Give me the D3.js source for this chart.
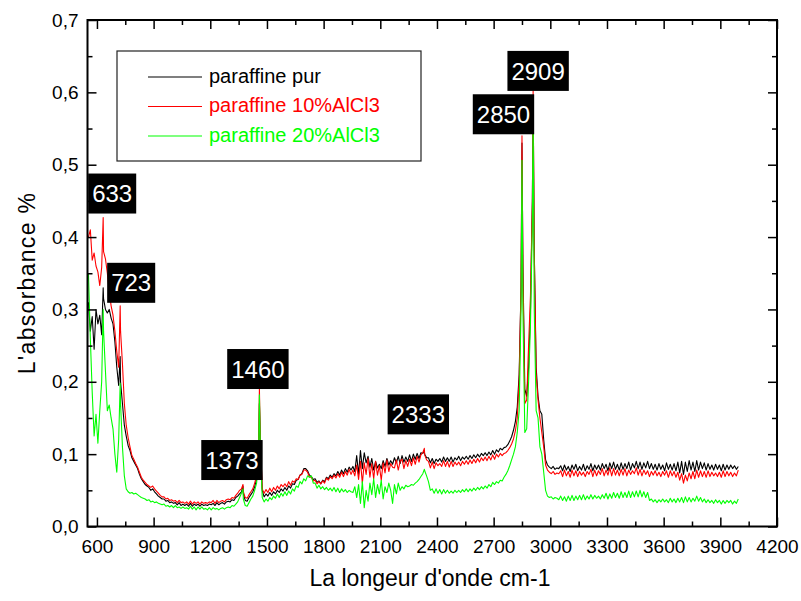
<!DOCTYPE html>
<html>
<head>
<meta charset="utf-8">
<script src="https://cdn.jsdelivr.net/npm/d3@7"></script>
<style>
  body { margin: 0; background: #fff; }
  svg { display: block; }
  text { font-family: Arial, "Liberation Sans", Helvetica, sans-serif; }
</style>
</head>
<body>
<svg id="chart" width="801" height="601"></svg>
<script>
// Infrared spectra of paraffin, pure and with AlCl3.
// Absorbance sampled every 10 cm-1 from 555 to 3995 cm-1 (10 values per row = 100 cm-1),
// plus the absorbance read at each labelled band.

const seriesNames = ["paraffine pur", "paraffine 10%AlCl3", "paraffine 20%AlCl3"];

const peakWavenumbers = [633, 723, 1373, 1460, 2333, 2850, 2909];

const purAtPeaks    = [0.330, 0.235, 0.056, 0.170, 0.103, 0.530, 0.595];
const alcl10AtPeaks = [0.427, 0.305, 0.058, 0.190, 0.108, 0.540, 0.602];
const alcl20AtPeaks = [0.300, 0.198, 0.052, 0.182, 0.079, 0.506, 0.580];

const purValues = [
  0.310, 0.270, 0.290, 0.245, 0.300, 0.280, 0.292, 0.265, 0.315, 0.300, // 555
  0.295, 0.300, 0.288, 0.280, 0.255, 0.220, 0.195, 0.200, 0.170, 0.140, // 655
  0.125, 0.112, 0.105, 0.095, 0.090, 0.085, 0.080, 0.072, 0.066, 0.062, // 755
  0.058, 0.056, 0.054, 0.050, 0.052, 0.048, 0.045, 0.042, 0.040, 0.038, // 855
  0.038, 0.035, 0.036, 0.033, 0.034, 0.032, 0.033, 0.030, 0.033, 0.029, // 955
  0.031, 0.029, 0.031, 0.028, 0.032, 0.028, 0.031, 0.029, 0.031, 0.028, // 1055
  0.031, 0.029, 0.030, 0.029, 0.031, 0.030, 0.032, 0.029, 0.033, 0.030, // 1155
  0.032, 0.033, 0.031, 0.034, 0.035, 0.034, 0.037, 0.036, 0.040, 0.042, // 1255
  0.045, 0.048, 0.045, 0.036, 0.035, 0.040, 0.044, 0.048, 0.055, 0.065, // 1355
  0.090, 0.120, 0.050, 0.041, 0.045, 0.042, 0.047, 0.043, 0.048, 0.045, // 1455
  0.050, 0.047, 0.052, 0.049, 0.054, 0.050, 0.056, 0.053, 0.059, 0.058, // 1555
  0.064, 0.065, 0.071, 0.073, 0.080, 0.080, 0.077, 0.071, 0.069, 0.065, // 1655
  0.066, 0.061, 0.063, 0.059, 0.064, 0.062, 0.068, 0.066, 0.071, 0.068, // 1755
  0.073, 0.070, 0.076, 0.071, 0.078, 0.073, 0.080, 0.075, 0.082, 0.078, // 1855
  0.083, 0.076, 0.098, 0.072, 0.105, 0.080, 0.102, 0.088, 0.097, 0.082, // 1955
  0.094, 0.078, 0.090, 0.081, 0.086, 0.080, 0.091, 0.083, 0.094, 0.085, // 2055
  0.091, 0.086, 0.095, 0.088, 0.097, 0.087, 0.098, 0.089, 0.096, 0.090, // 2155
  0.099, 0.090, 0.100, 0.093, 0.101, 0.094, 0.102, 0.101, 0.100, 0.095, // 2255
  0.095, 0.088, 0.094, 0.087, 0.093, 0.090, 0.094, 0.089, 0.096, 0.090, // 2355
  0.095, 0.090, 0.096, 0.089, 0.095, 0.092, 0.097, 0.091, 0.096, 0.093, // 2455
  0.097, 0.093, 0.098, 0.094, 0.099, 0.095, 0.100, 0.096, 0.101, 0.098, // 2555
  0.102, 0.098, 0.103, 0.099, 0.105, 0.100, 0.106, 0.103, 0.108, 0.106, // 2655
  0.109, 0.110, 0.113, 0.118, 0.124, 0.133, 0.145, 0.165, 0.210, 0.330, // 2755
  0.360, 0.190, 0.180, 0.220, 0.300, 0.450, 0.380, 0.220, 0.180, 0.160, // 2855
  0.155, 0.120, 0.092, 0.085, 0.082, 0.080, 0.083, 0.079, 0.081, 0.080, // 2955
  0.084, 0.077, 0.085, 0.078, 0.083, 0.076, 0.085, 0.079, 0.086, 0.077, // 3055
  0.083, 0.078, 0.086, 0.077, 0.084, 0.079, 0.087, 0.077, 0.085, 0.079, // 3155
  0.085, 0.078, 0.087, 0.080, 0.086, 0.077, 0.088, 0.080, 0.089, 0.079, // 3255
  0.086, 0.078, 0.088, 0.079, 0.087, 0.080, 0.089, 0.078, 0.087, 0.081, // 3355
  0.090, 0.080, 0.089, 0.079, 0.088, 0.081, 0.090, 0.080, 0.087, 0.079, // 3455
  0.086, 0.078, 0.087, 0.079, 0.085, 0.077, 0.088, 0.079, 0.086, 0.078, // 3555
  0.087, 0.077, 0.089, 0.074, 0.090, 0.072, 0.089, 0.076, 0.091, 0.078, // 3655
  0.089, 0.076, 0.091, 0.078, 0.089, 0.080, 0.088, 0.078, 0.087, 0.079, // 3755
  0.085, 0.078, 0.086, 0.079, 0.085, 0.077, 0.086, 0.078, 0.085, 0.079, // 3855
  0.085, 0.080, 0.084, 0.079, 0.083                                     // 3955
];

const alcl10Values = [
  0.400, 0.410, 0.368, 0.378, 0.360, 0.352, 0.333, 0.358, 0.380, 0.370, // 555
  0.350, 0.325, 0.305, 0.292, 0.270, 0.242, 0.220, 0.270, 0.225, 0.170, // 655
  0.140, 0.123, 0.110, 0.098, 0.093, 0.087, 0.082, 0.075, 0.068, 0.064, // 755
  0.061, 0.058, 0.056, 0.054, 0.056, 0.052, 0.049, 0.046, 0.043, 0.041, // 855
  0.041, 0.038, 0.039, 0.036, 0.037, 0.035, 0.036, 0.033, 0.036, 0.033, // 955
  0.034, 0.032, 0.034, 0.031, 0.035, 0.031, 0.034, 0.032, 0.034, 0.031, // 1055
  0.034, 0.032, 0.033, 0.032, 0.034, 0.033, 0.036, 0.032, 0.036, 0.033, // 1155
  0.035, 0.036, 0.034, 0.037, 0.038, 0.037, 0.040, 0.039, 0.043, 0.046, // 1255
  0.050, 0.052, 0.048, 0.040, 0.039, 0.044, 0.048, 0.052, 0.060, 0.070, // 1355
  0.095, 0.120, 0.052, 0.046, 0.051, 0.047, 0.053, 0.048, 0.054, 0.050, // 1455
  0.056, 0.052, 0.058, 0.055, 0.059, 0.055, 0.062, 0.057, 0.063, 0.061, // 1555
  0.066, 0.065, 0.071, 0.072, 0.078, 0.078, 0.075, 0.068, 0.068, 0.063, // 1655
  0.064, 0.059, 0.062, 0.059, 0.063, 0.060, 0.067, 0.064, 0.069, 0.066, // 1755
  0.071, 0.067, 0.073, 0.068, 0.075, 0.069, 0.076, 0.071, 0.079, 0.072, // 1855
  0.078, 0.070, 0.085, 0.065, 0.090, 0.060, 0.088, 0.072, 0.094, 0.068, // 1955
  0.087, 0.066, 0.090, 0.071, 0.084, 0.064, 0.088, 0.074, 0.092, 0.076, // 2055
  0.087, 0.082, 0.081, 0.092, 0.078, 0.090, 0.093, 0.080, 0.091, 0.083, // 2155
  0.093, 0.084, 0.095, 0.086, 0.097, 0.089, 0.099, 0.102, 0.099, 0.092, // 2255
  0.090, 0.081, 0.089, 0.080, 0.088, 0.084, 0.087, 0.083, 0.091, 0.083, // 2355
  0.090, 0.082, 0.090, 0.083, 0.089, 0.085, 0.089, 0.084, 0.090, 0.086, // 2455
  0.091, 0.086, 0.092, 0.087, 0.093, 0.088, 0.094, 0.089, 0.095, 0.091, // 2555
  0.096, 0.091, 0.097, 0.092, 0.099, 0.093, 0.100, 0.096, 0.101, 0.098, // 2655
  0.101, 0.102, 0.105, 0.109, 0.114, 0.121, 0.132, 0.150, 0.200, 0.330, // 2755
  0.350, 0.170, 0.175, 0.250, 0.320, 0.450, 0.380, 0.210, 0.175, 0.150, // 2855
  0.130, 0.110, 0.085, 0.078, 0.075, 0.073, 0.076, 0.072, 0.074, 0.073, // 2955
  0.077, 0.069, 0.078, 0.070, 0.076, 0.068, 0.078, 0.070, 0.077, 0.069, // 3055
  0.076, 0.071, 0.075, 0.069, 0.076, 0.072, 0.079, 0.069, 0.078, 0.070, // 3155
  0.077, 0.072, 0.080, 0.070, 0.078, 0.071, 0.081, 0.070, 0.080, 0.071, // 3255
  0.078, 0.070, 0.079, 0.071, 0.080, 0.070, 0.078, 0.072, 0.077, 0.073, // 3355
  0.081, 0.071, 0.079, 0.070, 0.078, 0.072, 0.077, 0.069, 0.076, 0.071, // 3455
  0.077, 0.070, 0.075, 0.069, 0.076, 0.071, 0.077, 0.068, 0.077, 0.070, // 3555
  0.076, 0.068, 0.075, 0.064, 0.073, 0.060, 0.071, 0.063, 0.074, 0.066, // 3655
  0.076, 0.066, 0.078, 0.068, 0.077, 0.069, 0.076, 0.068, 0.077, 0.069, // 3755
  0.075, 0.070, 0.074, 0.069, 0.075, 0.068, 0.077, 0.069, 0.076, 0.070, // 3855
  0.075, 0.069, 0.074, 0.070, 0.078                                     // 3955
];

const alcl20Values = [
  0.350, 0.260, 0.185, 0.125, 0.155, 0.115, 0.160, 0.200, 0.270, 0.215, // 555
  0.160, 0.168, 0.150, 0.135, 0.100, 0.075, 0.120, 0.170, 0.110, 0.070, // 655
  0.052, 0.048, 0.046, 0.047, 0.045, 0.046, 0.044, 0.042, 0.040, 0.039, // 755
  0.038, 0.036, 0.037, 0.034, 0.035, 0.033, 0.034, 0.032, 0.031, 0.030, // 855
  0.031, 0.028, 0.029, 0.027, 0.029, 0.026, 0.029, 0.026, 0.027, 0.025, // 955
  0.027, 0.025, 0.026, 0.024, 0.028, 0.024, 0.027, 0.023, 0.027, 0.024, // 1055
  0.027, 0.024, 0.025, 0.023, 0.026, 0.023, 0.026, 0.024, 0.025, 0.023, // 1155
  0.025, 0.026, 0.024, 0.026, 0.027, 0.026, 0.029, 0.028, 0.031, 0.034, // 1255
  0.040, 0.046, 0.038, 0.029, 0.028, 0.033, 0.038, 0.042, 0.050, 0.060, // 1355
  0.085, 0.110, 0.040, 0.034, 0.038, 0.035, 0.040, 0.037, 0.042, 0.039, // 1455
  0.045, 0.040, 0.046, 0.042, 0.048, 0.043, 0.049, 0.045, 0.052, 0.049, // 1555
  0.056, 0.054, 0.062, 0.059, 0.066, 0.063, 0.070, 0.068, 0.070, 0.060, // 1655
  0.060, 0.053, 0.057, 0.052, 0.055, 0.051, 0.054, 0.050, 0.053, 0.049, // 1755
  0.054, 0.048, 0.053, 0.047, 0.052, 0.048, 0.051, 0.047, 0.050, 0.048, // 1855
  0.047, 0.055, 0.040, 0.058, 0.032, 0.062, 0.026, 0.050, 0.035, 0.060, // 1955
  0.044, 0.066, 0.040, 0.058, 0.045, 0.064, 0.038, 0.055, 0.047, 0.060, // 2055
  0.050, 0.032, 0.058, 0.045, 0.060, 0.050, 0.055, 0.052, 0.057, 0.055, // 2155
  0.056, 0.058, 0.057, 0.060, 0.062, 0.065, 0.069, 0.073, 0.077, 0.070, // 2255
  0.062, 0.050, 0.052, 0.046, 0.052, 0.046, 0.051, 0.045, 0.051, 0.046, // 2355
  0.050, 0.046, 0.049, 0.046, 0.050, 0.047, 0.050, 0.047, 0.051, 0.048, // 2455
  0.052, 0.048, 0.052, 0.049, 0.053, 0.050, 0.054, 0.051, 0.055, 0.052, // 2555
  0.056, 0.053, 0.058, 0.055, 0.061, 0.058, 0.062, 0.060, 0.064, 0.063, // 2655
  0.068, 0.072, 0.077, 0.084, 0.092, 0.100, 0.110, 0.130, 0.160, 0.300, // 2755
  0.300, 0.130, 0.135, 0.200, 0.280, 0.420, 0.300, 0.160, 0.150, 0.110, // 2855
  0.100, 0.075, 0.050, 0.042, 0.040, 0.041, 0.038, 0.040, 0.039, 0.037, // 2955
  0.042, 0.036, 0.041, 0.035, 0.042, 0.036, 0.043, 0.036, 0.042, 0.037, // 3055
  0.043, 0.037, 0.044, 0.037, 0.042, 0.038, 0.044, 0.038, 0.043, 0.039, // 3155
  0.042, 0.038, 0.044, 0.039, 0.046, 0.038, 0.045, 0.039, 0.047, 0.040, // 3255
  0.046, 0.039, 0.048, 0.040, 0.047, 0.040, 0.049, 0.040, 0.048, 0.041, // 3355
  0.049, 0.041, 0.050, 0.041, 0.048, 0.040, 0.047, 0.036, 0.038, 0.034, // 3455
  0.037, 0.033, 0.037, 0.034, 0.038, 0.034, 0.037, 0.033, 0.039, 0.034, // 3555
  0.038, 0.033, 0.039, 0.034, 0.040, 0.033, 0.041, 0.034, 0.040, 0.034, // 3655
  0.039, 0.035, 0.042, 0.035, 0.040, 0.034, 0.038, 0.033, 0.037, 0.033, // 3755
  0.036, 0.032, 0.037, 0.033, 0.036, 0.031, 0.036, 0.032, 0.036, 0.033, // 3855
  0.036, 0.031, 0.035, 0.032, 0.038                                     // 3955
];

const xTickValues = [600, 900, 1200, 1500, 1800, 2100, 2400, 2700, 3000, 3300, 3600, 3900, 4200];
const xMinorTickValues = [750, 1050, 1350, 1650, 1950, 2250, 2550, 2850, 3150, 3450, 3750, 4050];
const yTickValues = [0, 0.1, 0.2, 0.3, 0.4, 0.5, 0.6, 0.7];
const yMinorTickValues = [0.05, 0.15, 0.25, 0.35, 0.45, 0.55, 0.65];

// ---- drawing ----
const svg = d3.select("#chart");
const plotLeft = 87.5, plotRight = 777, plotTop = 20, plotBottom = 526.5;
const x = d3.scaleLinear().domain([550, 4200]).range([plotLeft, plotRight]);
const y = d3.scaleLinear().domain([0, 0.7]).range([plotBottom, plotTop]);

const grid = d3.range(555, 4000, 10);
function spectrum(values, peakValues) {
  const pts = grid.map((w, i) => [w, values[i]]);
  peakWavenumbers.forEach((w, i) => pts.push([w, peakValues[i]]));
  return pts.sort((a, b) => a[0] - b[0]);
}

const series = [
  { name: seriesNames[0], color: "#000000", points: spectrum(purValues, purAtPeaks) },
  { name: seriesNames[1], color: "#ff0000", points: spectrum(alcl10Values, alcl10AtPeaks) },
  { name: seriesNames[2], color: "#00ff00", points: spectrum(alcl20Values, alcl20AtPeaks) }
];

svg.append("clipPath").attr("id", "plot-clip")
  .append("rect").attr("x", plotLeft).attr("y", plotTop)
  .attr("width", plotRight - plotLeft).attr("height", plotBottom - plotTop);

const line = d3.line().x(d => x(d[0])).y(d => y(d[1]));
const plot = svg.append("g").attr("clip-path", "url(#plot-clip)");
series.forEach(s => {
  plot.append("path")
    .datum(s.points)
    .attr("d", line)
    .attr("fill", "none")
    .attr("stroke", s.color)
    .attr("stroke-width", 1.1)
    .attr("stroke-linejoin", "round");
});

// axes: ticks pointing inward on all four sides
const fontFamily = 'Arial, "Liberation Sans", Helvetica, sans-serif';
const commaLocale = d3.formatLocale({ decimal: ",", thousands: ".", grouping: [3], currency: ["", ""] });
const yFormat = commaLocale.format(".1f");

function styleAxis(g) {
  g.select(".domain").remove();
  g.selectAll(".tick line").attr("stroke", "#000").attr("stroke-width", 1.5);
  g.attr("font-size", 19).attr("font-family", fontFamily);
  g.selectAll(".tick text").attr("fill", "#000");
}

svg.append("g").attr("transform", `translate(0,${plotBottom})`)
  .call(d3.axisBottom(x).tickValues(xTickValues).tickSize(-9).tickPadding(13).tickFormat(d3.format("d")))
  .call(styleAxis);
svg.append("g").attr("transform", `translate(0,${plotBottom})`)
  .call(d3.axisBottom(x).tickValues(xMinorTickValues).tickSize(-5).tickFormat(""))
  .call(styleAxis);
svg.append("g").attr("transform", `translate(0,${plotTop})`)
  .call(d3.axisTop(x).tickValues(xTickValues).tickSize(-9).tickFormat(""))
  .call(styleAxis);
svg.append("g").attr("transform", `translate(0,${plotTop})`)
  .call(d3.axisTop(x).tickValues(xMinorTickValues).tickSize(-5).tickFormat(""))
  .call(styleAxis);

svg.append("g").attr("transform", `translate(${plotLeft},0)`)
  .call(d3.axisLeft(y).tickValues(yTickValues).tickSize(-9).tickPadding(9).tickFormat(yFormat))
  .call(styleAxis);
svg.append("g").attr("transform", `translate(${plotLeft},0)`)
  .call(d3.axisLeft(y).tickValues(yMinorTickValues).tickSize(-5).tickFormat(""))
  .call(styleAxis);
svg.append("g").attr("transform", `translate(${plotRight},0)`)
  .call(d3.axisRight(y).tickValues(yTickValues).tickSize(-9).tickFormat(""))
  .call(styleAxis);
svg.append("g").attr("transform", `translate(${plotRight},0)`)
  .call(d3.axisRight(y).tickValues(yMinorTickValues).tickSize(-5).tickFormat(""))
  .call(styleAxis);

// frame
svg.append("rect")
  .attr("x", plotLeft).attr("y", plotTop)
  .attr("width", plotRight - plotLeft).attr("height", plotBottom - plotTop)
  .attr("fill", "none").attr("stroke", "#000").attr("stroke-width", 2);

// axis titles
svg.append("text")
  .attr("x", 430).attr("y", 586)
  .attr("text-anchor", "middle")
  .attr("font-size", 23)
  .attr("fill", "#000")
  .text("La longeur d'onde cm-1");

svg.append("text")
  .attr("transform", "translate(35,283) rotate(-90)")
  .attr("text-anchor", "middle")
  .attr("font-size", 23)
  .attr("letter-spacing", 1.3)
  .attr("fill", "#000")
  .text("L'absorbance %");

// legend
const legend = svg.append("g");
legend.append("rect")
  .attr("x", 117).attr("y", 51).attr("width", 304).attr("height", 110)
  .attr("fill", "#fff").attr("stroke", "#222").attr("stroke-width", 1.2);
series.forEach((s, i) => {
  const ly = 77 + i * 29.5;
  legend.append("line")
    .attr("x1", 148).attr("x2", 202).attr("y1", ly).attr("y2", ly)
    .attr("stroke", s.color).attr("stroke-width", 1.2);
  legend.append("text")
    .attr("x", 209).attr("y", ly + 5.5)
    .attr("font-size", 20)
    .attr("fill", s.color)
    .text(s.name);
});

// band labels: white text on black boxes just above the highest trace
const labelLayout = [
  { dx: 9, lift: 4 },
  { dx: 11, lift: 3 },
  { dx: -11, lift: 4.5 },
  { dx: -1.5, lift: 0 },
  { dx: -6, lift: 14 },
  { dx: -18.5, lift: 1.5 },
  { dx: 5, lift: 0 }
];
const labels = svg.append("g");
peakWavenumbers.forEach((w, i) => {
  const peakTop = d3.max([purAtPeaks[i], alcl10AtPeaks[i], alcl20AtPeaks[i]]);
  const cx = x(w) + labelLayout[i].dx;
  const boxBottom = y(peakTop) - labelLayout[i].lift;
  const boxH = 40;
  const g = labels.append("g");
  const rect = g.append("rect").attr("fill", "#000");
  const t = g.append("text")
    .attr("x", cx).attr("y", boxBottom - boxH / 2 + 8.6)
    .attr("text-anchor", "middle")
    .attr("font-size", 24)
    .attr("fill", "#fff")
    .text(String(w));
  const tw = t.node().getComputedTextLength();
  const bw = tw + 8;
  rect.attr("x", cx - bw / 2).attr("y", boxBottom - boxH)
    .attr("width", bw).attr("height", boxH);
});
</script>
</body>
</html>
